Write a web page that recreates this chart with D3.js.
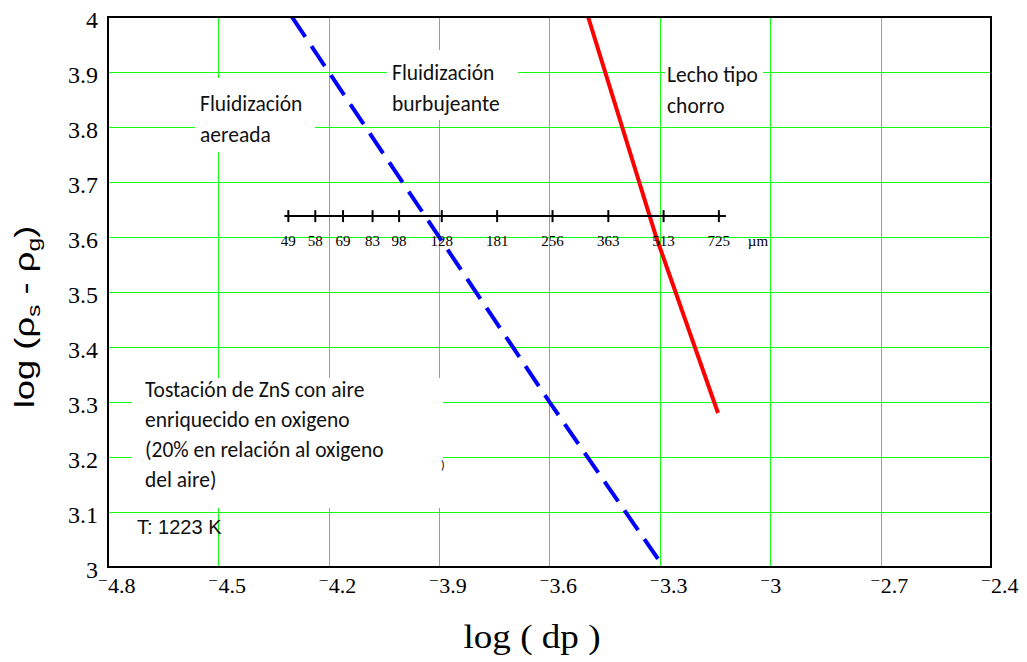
<!DOCTYPE html>
<html>
<head>
<meta charset="utf-8">
<script src="https://cdn.jsdelivr.net/npm/d3@7"></script>
<style>
  body { margin: 0; background: #fff; }
  svg { display: block; }
</style>
</head>
<body>
<div id="chart"></div>
<script>

// axis ticks
var xTicks = [-4.8, -4.5, -4.2, -3.9, -3.6, -3.3, -3.0, -2.7, -2.4];
var yTicks = [3, 3.1, 3.2, 3.3, 3.4, 3.5, 3.6, 3.7, 3.8, 3.9, 4];

// boundary between aerated and bubbling fluidization (dashed blue)
var blueX = [-4.30, -4.23, -3.60, -3.29];
var blueY = [4.00, 3.93, 3.30, 3.00];

// boundary to spouted bed (red)
var redX = [-3.495, -3.31, -3.142];
var redY = [4.00, 3.60, 3.28];

// particle size scale in micrometres
var sizesUm = [49, 58, 69, 83, 98, 128, 181, 256, 363, 513, 725];
var sizeScaleY = 3.638;

var W = 1027, H = 662;
var plot = {left: 108, right: 991, top: 17, bottom: 567};
var serif = "'Liberation Serif', 'Times New Roman', serif";
var sans  = "'Liberation Sans', Arial, sans-serif";
var noteFont = "Carlito, Lato, 'Open Sans', sans-serif";

var svg = d3.select("#chart").append("svg")
  .attr("width", W)
  .attr("height", H);

var x = d3.scaleLinear().domain([-4.8, -2.4]).range([plot.left, plot.right]);
var y = d3.scaleLinear().domain([3, 4]).range([plot.bottom, plot.top]);
var crisp = function(v) { return Math.round(v) + 0.5; };

// grid
var grid = svg.append("g").attr("class", "grid").attr("shape-rendering", "crispEdges");
grid.selectAll(".vgrid")
  .data(xTicks.slice(1, -1))
  .enter().append("line")
  .attr("x1", function(d) { return crisp(x(d)); })
  .attr("x2", function(d) { return crisp(x(d)); })
  .attr("y1", plot.top).attr("y2", plot.bottom)
  .attr("stroke", "#11ff11").attr("stroke-width", 1);

grid.selectAll(".hgrid")
  .data(yTicks.slice(1, -1))
  .enter().append("line")
  .attr("y1", function(d) { return crisp(y(d)); })
  .attr("y2", function(d) { return crisp(y(d)); })
  .attr("x1", plot.left).attr("x2", plot.right)
  .attr("stroke", "#11ff11").attr("stroke-width", 1);

// white boxes behind the region labels (they hide the grid)
var boxes = [
  {x0: 195, x1: 315, y0: 78, y1: 152},
  {x0: 387, x1: 518, y0: 50, y1: 120},
  {x0: 665, x1: 763, y0: 60, y1: 120},
  {x0: 132, x1: 443, y0: 378, y1: 508}
];
svg.selectAll(".box")
  .data(boxes)
  .enter().append("rect")
  .attr("x", function(d) { return d.x0; })
  .attr("y", function(d) { return d.y0; })
  .attr("width", function(d) { return d.x1 - d.x0; })
  .attr("height", function(d) { return d.y1 - d.y0; })
  .attr("fill", "#fff");

// clip the curves to the plot area
svg.append("clipPath").attr("id", "plot-clip")
  .append("rect")
  .attr("x", plot.left).attr("y", plot.top)
  .attr("width", plot.right - plot.left)
  .attr("height", plot.bottom - plot.top);

var line = d3.line()
  .x(function(d) { return x(d[0]); })
  .y(function(d) { return y(d[1]); });

svg.append("path")
  .attr("clip-path", "url(#plot-clip)")
  .attr("d", line(d3.zip(blueX, blueY)))
  .attr("fill", "none")
  .attr("stroke", "#0000ff")
  .attr("stroke-width", 4)
  .attr("stroke-dasharray", "24,11");

svg.append("path")
  .attr("clip-path", "url(#plot-clip)")
  .attr("d", line(d3.zip(redX, redY)))
  .attr("fill", "none")
  .attr("stroke", "#ff0000")
  .attr("stroke-width", 4);

// particle size scale (um)
var sx = function(um) { return x(Math.log10(um * 1e-6)); };
var sy = y(sizeScaleY);
var sizeG = svg.append("g");
sizeG.append("line")
  .attr("x1", sx(sizesUm[0]) - 4)
  .attr("x2", sx(sizesUm[sizesUm.length - 1]) + 7)
  .attr("y1", sy).attr("y2", sy)
  .attr("stroke", "#000").attr("stroke-width", 2);
sizeG.selectAll(".stick")
  .data(sizesUm)
  .enter().append("line")
  .attr("x1", function(d) { return sx(d); })
  .attr("x2", function(d) { return sx(d); })
  .attr("y1", sy - 6).attr("y2", sy + 6)
  .attr("stroke", "#000").attr("stroke-width", 2);
sizeG.selectAll(".slabel")
  .data(sizesUm)
  .enter().append("text")
  .attr("x", function(d) { return sx(d); })
  .attr("y", sy + 30)
  .attr("text-anchor", "middle")
  .style("font-family", serif)
  .style("font-size", "15px")
  .text(function(d) { return d; });
sizeG.append("text")
  .attr("x", sx(sizesUm[sizesUm.length - 1]) + 29)
  .attr("y", sy + 30)
  .style("font-family", serif)
  .style("font-size", "15px")
  .text("\u00b5m");

// frame
svg.append("rect")
  .attr("x", plot.left).attr("y", plot.top)
  .attr("width", plot.right - plot.left)
  .attr("height", plot.bottom - plot.top)
  .attr("fill", "none")
  .attr("stroke", "#000")
  .attr("stroke-width", 2);

// y tick labels
svg.selectAll(".ylabel")
  .data(yTicks)
  .enter().append("text")
  .attr("x", plot.left - 10)
  .attr("y", function(d) { return y(d) + 11; })
  .attr("text-anchor", "end")
  .style("font-family", serif)
  .style("font-size", "24px")
  .text(function(d) { return String(+d.toFixed(1)); });

// x tick labels: raised short minus before the digits
var xl = svg.selectAll(".xlabel")
  .data(xTicks)
  .enter().append("g");
xl.append("text")
  .attr("x", function(d) { return x(d) - 0.5; })
  .attr("y", plot.bottom + 19)
  .attr("text-anchor", "end")
  .style("font-family", serif)
  .style("font-size", "17px")
  .text("\u2212");
xl.append("text")
  .attr("x", function(d) { return x(d); })
  .attr("y", plot.bottom + 26)
  .style("font-family", serif)
  .style("font-size", "22px")
  .text(function(d) { return String(+Math.abs(d).toFixed(1)); });

// axis titles
svg.append("text")
  .attr("x", 532).attr("y", 648)
  .attr("text-anchor", "middle")
  .style("font-family", serif)
  .style("font-size", "33px")
  .attr("textLength", 137)
  .attr("lengthAdjust", "spacingAndGlyphs")
  .text("log ( dp )");

var yt = svg.append("text")
  .attr("transform", "translate(34,317) rotate(-90) scale(1.3,1)")
  .attr("text-anchor", "middle")
  .style("font-family", sans)
  .style("font-size", "28px")
  .attr("fill", "#000");
yt.append("tspan").text("log (\u03c1");
yt.append("tspan").style("font-size", "19px").attr("dy", 6).text("s");
yt.append("tspan").attr("dy", -6).text(" - \u03c1");
yt.append("tspan").style("font-size", "19px").attr("dy", 6).text("g");
yt.append("tspan").attr("dy", -6).text(")");

// region notes
var notes = [
  {x: 200, y: 111, lines: ["Fluidizaci\u00f3n", "aereada"]},
  {x: 392, y: 80, lines: ["Fluidizaci\u00f3n", "burbujeante"]},
  {x: 667, y: 82, lines: ["Lecho tipo", "chorro"]},
  {x: 145, y: 397, lines: ["Tostaci\u00f3n de ZnS con aire", "enriquecido en oxigeno",
                           "(20% en relaci\u00f3n al oxigeno", "del aire)"]}
];
notes.forEach(function(n) {
  var t = svg.append("text")
    .style("font-family", noteFont)
    .style("font-size", "21.5px")
    .attr("fill", "#111");
  n.lines.forEach(function(s, i) {
    t.append("tspan")
      .attr("x", n.x)
      .attr("y", n.y + i * (n.lines.length > 2 ? 30 : 31))
      .text(s);
  });
});

// small leftover glyph peeking out from behind the note box
svg.append("text")
  .attr("x", 441).attr("y", 469)
  .style("font-family", noteFont)
  .style("font-size", "12px")
  .text(")");

svg.append("text")
  .attr("x", 137).attr("y", 534)
  .style("font-family", sans)
  .style("font-size", "20px")
  .attr("fill", "#111")
  .text("T: 1223 K");

</script>
</body>
</html>
